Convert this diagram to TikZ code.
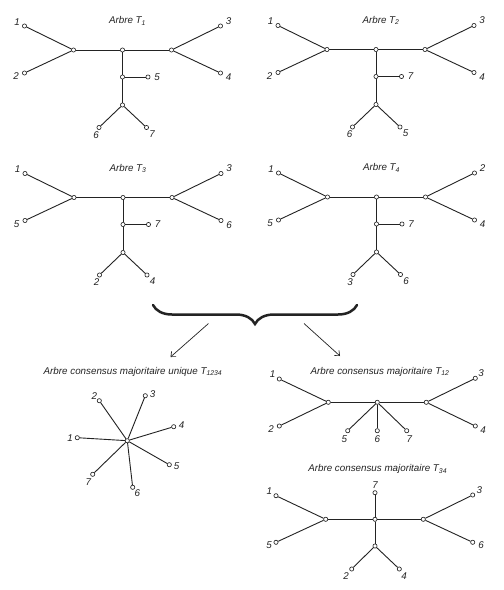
\documentclass[tikz,border=0pt]{standalone}
\usepackage{fontspec}
\setmainfont{Liberation Sans}
\usetikzlibrary{arrows.meta,decorations.pathreplacing}
\definecolor{arbreGris}{RGB}{35,35,35}

\tikzset{
  noeud/.style={circle, draw=arbreGris, fill=white, line width=0.65pt, inner sep=0pt, minimum size=4.2pt},
  branche/.style={draw=arbreGris, line width=0.9pt},
  etiq/.style={font=\fontsize{9.8}{11}\selectfont\itshape, text=arbreGris, inner sep=0pt},
  titre/.style={font=\fontsize{9.8}{11}\selectfont\itshape, text=arbreGris, inner sep=0pt},
  fleche/.style={draw=arbreGris, line width=0.7pt, -{Straight Barb[length=4pt,width=7pt]}},
}

% arbre a 7 feuilles : #1 prefixe, #2 indice du titre, #3-#9 etiquettes des feuilles
\newcommand{\arbreStd}[9]{%
  \node[titre] (#1titre) at (5,-29) {Arbre T\textsubscript{#2}};
  % noeuds internes
  \node[noeud] (#1c) at (0,0) {};
  \node[noeud] (#1g) at (-49,0) {};
  \node[noeud] (#1d) at (49,0) {};
  \node[noeud] (#1m) at (0,27) {};
  \node[noeud] (#1b) at (0,55) {};
  % feuilles
  \node[noeud] (#1f1) at (-98,-24) {};
  \node[noeud] (#1f2) at (-98,23) {};
  \node[noeud] (#1f3) at (98,-24) {};
  \node[noeud] (#1f4) at (98,23) {};
  \node[noeud] (#1f5) at (25.5,27) {};
  \node[noeud] (#1f6) at (-23.5,77.5) {};
  \node[noeud] (#1f7) at (24,77.5) {};
  % branches
  \draw[branche] (#1g) -- (#1c) -- (#1d);
  \draw[branche] (#1f1) -- (#1g) -- (#1f2);
  \draw[branche] (#1f3) -- (#1d) -- (#1f4);
  \draw[branche] (#1c) -- (#1m) -- (#1b);
  \draw[branche] (#1m) -- (#1f5);
  \draw[branche] (#1f6) -- (#1b) -- (#1f7);
  % etiquettes
  \node[etiq] (#1e1) at (-105.5,-28) {#3};
  \node[etiq] (#1e2) at (-106.5,26.5) {#4};
  \node[etiq] (#1e3) at (106,-29) {#5};
  \node[etiq] (#1e4) at (106,27.5) {#6};
  \node[etiq] (#1e5) at (34.5,27) {#7};
  \node[etiq] (#1e6) at (-26.5,85) {#8};
  \node[etiq] (#1e7) at (29.5,84) {#9};
}

\begin{document}
\begin{tikzpicture}[x=1pt,y=-1pt]
    \useasboundingbox[fill=white] (0,0) rectangle (504,590);

    % les quatre arbres
    \begin{scope}[shift={(122.5,50)}]
        \arbreStd{a}{1}{1}{2}{3}{4}{5}{6}{7}
    \end{scope}
    \begin{scope}[shift={(376,49.5)}]
        \arbreStd{b}{2}{1}{2}{3}{4}{7}{6}{5}
    \end{scope}
    \begin{scope}[shift={(123,197.5)}]
        \arbreStd{c}{3}{1}{5}{3}{6}{7}{2}{4}
    \end{scope}
    \begin{scope}[shift={(376.5,197)}]
        \arbreStd{d}{4}{1}{5}{2}{4}{7}{3}{6}
    \end{scope}

    % accolade et fleches
    \draw[arbreGris, line width=2.5pt, line cap=round, decorate,
          decoration={brace, mirror, amplitude=19pt}] (153,305) -- (357,305);
    \coordinate (accG) at (208.5,323.5);
    \coordinate (accD) at (304,323.5);
    \coordinate (flecheG) at (170.5,357);
    \coordinate (flecheD) at (340,356);
    \draw[fleche] (accG) -- (flecheG);
    \draw[fleche] (accD) -- (flecheD);

    % consensus majoritaire unique (etoile)
    \node[titre] (etitre) at (133,371.7) {Arbre consensus majoritaire unique T\textsubscript{1234}};
    \node[noeud] (ec) at (127.3,440.7) {};
    \node[noeud] (ef1) at (77.3,437.7) {};
    \node[noeud] (ef2) at (99.3,400.7) {};
    \node[noeud] (ef3) at (145.3,395.7) {};
    \node[noeud] (ef4) at (173.7,426.7) {};
    \node[noeud] (ef5) at (169.3,464.7) {};
    \node[noeud] (ef6) at (132.7,487.3) {};
    \node[noeud] (ef7) at (92.7,474.3) {};
    \draw[branche] (ec) -- (ef1);
    \draw[branche] (ec) -- (ef2);
    \draw[branche] (ec) -- (ef3);
    \draw[branche] (ec) -- (ef4);
    \draw[branche] (ec) -- (ef5);
    \draw[branche] (ec) -- (ef6);
    \draw[branche] (ec) -- (ef7);
    \node[etiq] (ee1) at (70,437.7) {1};
    \node[etiq] (ee2) at (94.3,395.7) {2};
    \node[etiq] (ee3) at (152.7,393.7) {3};
    \node[etiq] (ee4) at (181.7,425) {4};
    \node[etiq] (ee5) at (176.7,466) {5};
    \node[etiq] (ee6) at (137.3,493.3) {6};
    \node[etiq] (ee7) at (88.3,481.7) {7};

    % consensus majoritaire T12
    \begin{scope}[shift={(377.3,402.3)}]
        \node[titre] (ftitre) at (2.7,-30.6) {Arbre consensus majoritaire T\textsubscript{12}};
        \node[noeud] (fc) at (0,0) {};
        \node[noeud] (fg) at (-49,0) {};
        \node[noeud] (fd) at (49,0) {};
        \node[noeud] (ff1) at (-98,-23.3) {};
        \node[noeud] (ff2) at (-98,23.7) {};
        \node[noeud] (ff3) at (98,-24) {};
        \node[noeud] (ff4) at (98,23.7) {};
        \node[noeud] (ff5) at (-29.6,28.4) {};
        \node[noeud] (ff6) at (0,28.4) {};
        \node[noeud] (ff7) at (29.4,28.4) {};
        \draw[branche] (fg) -- (fc) -- (fd);
        \draw[branche] (ff1) -- (fg) -- (ff2);
        \draw[branche] (ff3) -- (fd) -- (ff4);
        \draw[branche] (ff5) -- (fc) -- (ff7);
        \draw[branche] (fc) -- (ff6);
        \node[etiq] (fe1) at (-104.6,-28) {1};
        \node[etiq] (fe2) at (-106.3,27) {2};
        \node[etiq] (fe3) at (103.7,-29) {3};
        \node[etiq] (fe4) at (105.7,27.7) {4};
        \node[etiq] (fe5) at (-33,37) {5};
        \node[etiq] (fe6) at (0,37) {6};
        \node[etiq] (fe7) at (32,37) {7};
    \end{scope}

    % consensus majoritaire T34
    \begin{scope}[shift={(375,519.3)}]
        \node[titre] (gtitre) at (2.7,-50) {Arbre consensus majoritaire T\textsubscript{34}};
        \node[noeud] (gc) at (0,0) {};
        \node[noeud] (gg) at (-49.3,0) {};
        \node[noeud] (gd) at (48.3,0) {};
        \node[noeud] (gb) at (0,26.7) {};
        \node[noeud] (gf1) at (-99,-23.6) {};
        \node[noeud] (gf5) at (-99,23) {};
        \node[noeud] (gf3) at (97.7,-24.3) {};
        \node[noeud] (gf6) at (97.7,23) {};
        \node[noeud] (gf7) at (0,-26.6) {};
        \node[noeud] (gf2) at (-23.3,49.7) {};
        \node[noeud] (gf4) at (24.3,49.7) {};
        \draw[branche] (gg) -- (gc) -- (gd);
        \draw[branche] (gf1) -- (gg) -- (gf5);
        \draw[branche] (gf3) -- (gd) -- (gf6);
        \draw[branche] (gf7) -- (gc) -- (gb);
        \draw[branche] (gf2) -- (gb) -- (gf4);
        \node[etiq] (ge1) at (-105.7,-28.3) {1};
        \node[etiq] (ge5) at (-106,25.7) {5};
        \node[etiq] (ge3) at (104.3,-29.3) {3};
        \node[etiq] (ge6) at (106,25.7) {6};
        \node[etiq] (ge7) at (0,-34.3) {7};
        \node[etiq] (ge2) at (-29,56.4) {2};
        \node[etiq] (ge4) at (29,56.4) {4};
    \end{scope}
\end{tikzpicture}
\end{document}
